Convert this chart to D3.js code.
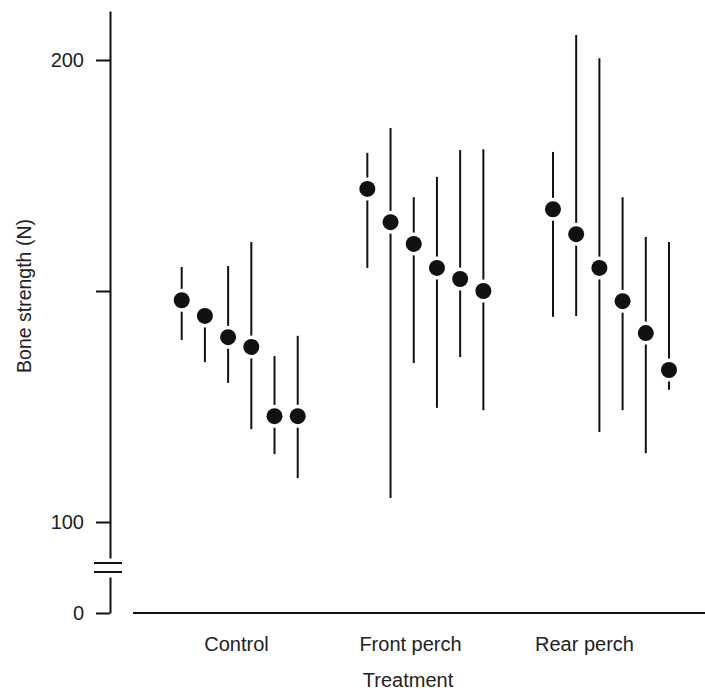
<!DOCTYPE html>
<html>
<head>
<meta charset="utf-8">
<script src="https://cdn.jsdelivr.net/npm/d3@7"></script>
<style>
  body { margin: 0; background: #fff; }
  svg { display: block; }
  text { font-family: "Liberation Sans", Arial, sans-serif; fill: #222; }
</style>
</head>
<body>
<svg id="vis" width="705" height="691"></svg>
<script>
// bone strength by treatment: six means per group with their ranges
const treatments = ["Control", "Front perch", "Rear perch"];
const means = [
    [148.0, 144.6, 140.0, 137.9, 122.9, 122.9],
    [172.1, 164.9, 160.2, 155.0, 152.6, 150.0],
    [167.7, 162.3, 155.0, 147.8, 140.9, 132.9]
];
const highs = [
    [155.2, 146.5, 155.4, 160.6, 135.9, 140.3],
    [179.9, 185.3, 170.3, 174.7, 180.5, 180.7],
    [180.1, 205.4, 200.4, 170.3, 161.7, 160.6]
];
const lows = [
    [139.4, 134.6, 130.1, 120.1, 114.7, 109.5],
    [155.0, 105.2, 134.4, 124.7, 135.7, 124.2],
    [144.4, 144.6, 119.5, 124.2, 114.9, 128.6]
];
const yTicks = [100, 150, 200];
const yTickLabels = {100: "100", 200: "200"};

const svg = d3.select('#vis');
const fontSize = "20px";

// flatten into points, slot index leaves a gap of 2 between groups
var points = [];
treatments.forEach(function (t, g) {
    means[g].forEach(function (m, i) {
        points.push({group: t, slot: g * 8 + i, mean: m, hi: highs[g][i], lo: lows[g][i]});
    });
});

const x = d3.scaleLinear().domain([0, 21]).range([181.7, 669]);
const y = d3.scaleLinear().domain([100, 200]).range([522, 60]);
const yLow = d3.scaleLinear().domain([0, 8]).range([613, 577]);
const xCat = d3.scalePoint().domain(treatments).range([236, 584]);

// upper y axis (broken)
var yAxis = svg.append("g")
    .attr("transform", "translate(110,0)")
    .call(d3.axisLeft(y.copy().domain([y.invert(558), y.invert(11)]).range([558, 11]))
        .tickValues(yTicks)
        .tickSize(14)
        .tickSizeOuter(0)
        .tickPadding(12)
        .tickFormat(function (d) { return yTickLabels[d] || ""; }));

// lower y axis with the zero tick
var yAxisLow = svg.append("g")
    .attr("transform", "translate(110,0)")
    .call(d3.axisLeft(yLow)
        .tickValues([0])
        .tickSize(14)
        .tickSizeOuter(0)
        .tickPadding(12));

[yAxis, yAxisLow].forEach(function (a) {
    a.selectAll("path, line").attr("stroke", "#111").attr("stroke-width", 2);
    a.selectAll("text").style("font-size", fontSize).attr("fill", "#222");
});

// break marks
svg.selectAll(".brk")
    .data([563, 572])
    .enter().append("line")
    .attr("class", "brk")
    .attr("x1", 94).attr("x2", 122)
    .attr("y1", function (d) { return d; })
    .attr("y2", function (d) { return d; })
    .attr("stroke", "#111")
    .attr("stroke-width", 2);

// x axis line
svg.append("line")
    .attr("x1", 133).attr("x2", 705)
    .attr("y1", yLow(0)).attr("y2", yLow(0))
    .attr("stroke", "#111")
    .attr("stroke-width", 2);

var xAxis = svg.append("g")
    .attr("transform", "translate(0," + yLow(0) + ")")
    .call(d3.axisBottom(xCat).tickSize(0).tickPadding(24));
xAxis.select(".domain").remove();
xAxis.selectAll("text").style("font-size", fontSize).attr("fill", "#222");

// axis titles
svg.append("text")
    .attr("x", 408).attr("y", 687)
    .attr("text-anchor", "middle")
    .style("font-size", fontSize)
    .text("Treatment");

svg.append("text")
    .attr("transform", "translate(31,296) rotate(-90)")
    .attr("text-anchor", "middle")
    .style("font-size", "19.5px")
    .text("Bone strength (N)");

// whiskers
svg.selectAll(".whisker")
    .data(points)
    .enter().append("line")
    .attr("class", "whisker")
    .attr("x1", function (d) { return x(d.slot); })
    .attr("x2", function (d) { return x(d.slot); })
    .attr("y1", function (d) { return y(d.hi); })
    .attr("y2", function (d) { return y(d.lo); })
    .attr("stroke", "#111")
    .attr("stroke-width", 2);

// white halo then dot
svg.selectAll(".halo")
    .data(points)
    .enter().append("circle")
    .attr("class", "halo")
    .attr("cx", function (d) { return x(d.slot); })
    .attr("cy", function (d) { return y(d.mean); })
    .attr("r", 11.5)
    .attr("fill", "#fff");

svg.selectAll(".dot")
    .data(points)
    .enter().append("circle")
    .attr("class", "dot")
    .attr("cx", function (d) { return x(d.slot); })
    .attr("cy", function (d) { return y(d.mean); })
    .attr("r", 8)
    .attr("fill", "#111");
</script>
</body>
</html>
